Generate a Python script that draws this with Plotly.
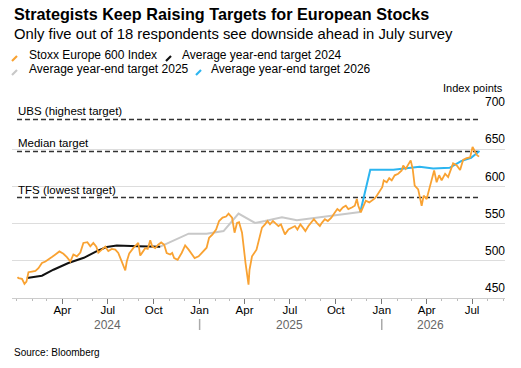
import plotly.graph_objects as go

# ---------------- data ----------------
stoxx_dates = [
    "2024-01-02","2024-01-04","2024-01-11","2024-01-16","2024-01-20","2024-01-24","2024-01-31",
    "2024-02-07","2024-02-13","2024-02-20","2024-02-27","2024-03-04","2024-03-11","2024-03-18",
    "2024-03-26","2024-04-03","2024-04-10","2024-04-17","2024-04-23","2024-04-30","2024-05-07",
    "2024-05-13","2024-05-21","2024-05-27","2024-06-02","2024-06-08","2024-06-12","2024-06-19",
    "2024-06-26","2024-07-02","2024-07-09","2024-07-16","2024-07-22","2024-07-29","2024-08-05",
    "2024-08-08","2024-08-13","2024-08-21","2024-08-31","2024-09-04","2024-09-08","2024-09-14",
    "2024-09-19","2024-09-24","2024-09-28","2024-10-04","2024-10-10","2024-10-16","2024-10-22",
    "2024-10-27","2024-11-03","2024-11-07","2024-11-11","2024-11-18","2024-11-26","2024-12-03",
    "2024-12-10","2024-12-16","2024-12-22","2024-12-30","2025-01-09","2025-01-15","2025-01-20",
    "2025-01-27","2025-02-03","2025-02-09","2025-02-16","2025-02-23","2025-02-28","2025-03-07",
    "2025-03-12","2025-03-17","2025-03-21","2025-03-27","2025-04-03","2025-04-07","2025-04-09",
    "2025-04-11","2025-04-16","2025-04-25","2025-05-02","2025-05-06","2025-05-12","2025-05-17",
    "2025-05-22","2025-05-28","2025-06-01","2025-06-08","2025-06-13","2025-06-18","2025-06-21",
    "2025-06-28","2025-07-05","2025-07-11","2025-07-16","2025-07-22","2025-07-27","2025-08-01",
    "2025-08-07","2025-08-14","2025-08-18","2025-08-24","2025-08-30","2025-09-03","2025-09-09",
    "2025-09-15","2025-09-22","2025-09-29","2025-10-04","2025-10-09","2025-10-15","2025-10-21",
    "2025-10-26","2025-11-02","2025-11-08","2025-11-12","2025-11-15","2025-11-20","2025-11-25",
    "2025-11-30","2025-12-07","2025-12-12","2025-12-18","2025-12-22","2025-12-27","2026-01-02",
    "2026-01-05","2026-01-11","2026-01-16","2026-01-21","2026-01-27","2026-02-03","2026-02-10",
    "2026-02-13","2026-02-18","2026-02-25","2026-02-28","2026-03-04","2026-03-08","2026-03-15",
    "2026-03-20","2026-03-22","2026-03-26","2026-04-01","2026-04-06","2026-04-11","2026-04-16",
    "2026-04-21","2026-04-26","2026-05-01","2026-05-08","2026-05-14","2026-05-21","2026-05-24",
    "2026-05-31","2026-06-07","2026-06-13","2026-06-20","2026-06-27","2026-07-02","2026-07-07",
    "2026-07-11","2026-07-15",
]
stoxx_values = [
    478, 476.6, 475.7, 469, 472, 484.7, 485.6,
    486.5, 490, 497, 499, 501.4, 505, 508.5,
    512.6, 509.5, 505, 499, 508.5, 506, 511,
    524, 525, 519.5, 524, 519, 511, 515,
    519, 513, 516, 515, 510.5, 499, 487,
    499, 510, 517, 524, 507, 510.5, 517,
    516, 527.5, 519.5, 517, 521.6, 524.7, 521.6,
    510.5, 508.5, 510.5, 503.6, 501.4, 510.5, 520.7,
    515, 508.5, 503.6, 506, 513, 517.6, 531,
    535.5, 542, 553.5, 558, 559.5, 563.5, 558,
    537.8, 551, 552, 537.8, 497, 479, 468,
    488, 506, 515, 535, 544.6, 549, 553.5,
    549, 553.5, 551, 546.7, 549, 540, 535.5,
    542, 544.6, 546.7, 542, 549, 544.6, 540,
    546.7, 553.5, 556, 551, 546.7, 551, 556,
    553.5, 558, 565, 569.6, 567, 571.7, 574,
    569.6, 571.7, 574, 583, 574, 565, 574,
    580.7, 578.5, 580.7, 583.9, 587.5, 592, 599,
    608, 605.6, 611, 608, 614.9, 617, 621.5,
    628, 623.6, 633, 635, 623.6, 601, 596,
    583, 574, 587.5, 583, 596, 610.5, 621.5,
    605.6, 615, 608, 617, 612.5, 624, 631,
    628.6, 622, 635.6, 638, 639, 653, 646.8,
    642, 640,
]

target2024_dates = ["2024-01-21","2024-02-20","2024-03-14","2024-04-13","2024-05-14",
                    "2024-06-12","2024-06-29","2024-07-19","2024-08-31","2024-10-14"]
target2024_values = [477, 480, 488, 497, 504, 514, 518.5, 520.5, 519.5, 519]

target2025_dates = ["2024-10-14","2024-12-10","2025-01-15","2025-02-18","2025-03-20","2025-04-22",
                    "2025-05-12","2025-06-15","2025-07-15","2025-09-13","2025-10-16","2025-11-19"]
target2025_values = [519, 536.5, 536.5, 540, 563.5, 551, 553.5, 558.5, 554.5, 560, 562.5, 565.5]

target2026_dates = ["2025-11-19","2025-12-09","2026-01-24","2026-03-18","2026-04-14",
                    "2026-05-17","2026-06-09","2026-06-29","2026-07-16"]
target2026_values = [565.5, 622.5, 622.5, 626.5, 624, 625, 634, 638.5, 647.5]

ref_labels = ["UBS (highest target)", "Median target", "TFS (lowest target)"]
ref_values = [690, 647, 585]
ref_span = ["2024-01-01", "2026-07-13"]

y_ticks = [450, 500, 550, 600, 650, 700]
x_tickvals = ["2024-04-01","2024-07-01","2024-10-01","2025-01-01","2025-04-01","2025-07-01",
              "2025-10-01","2026-01-01","2026-04-01","2026-07-01"]
x_ticktext = ["Apr","Jul","Oct","Jan","Apr","Jul","Oct","Jan","Apr","Jul"]
year_labels = ["2024", "2025", "2026"]
year_label_pos = ["2024-07-01", "2025-07-01", "2026-04-08"]
year_breaks = ["2025-01-01", "2026-01-01"]
minor_months = [f"{y}-{m:02d}-01" for y in (2024, 2025, 2026) for m in range(1, 13)
                if f"{y}-{m:02d}-01" <= "2026-09-01"]

series_names = ["Stoxx Europe 600 Index", "Average year-end target 2024",
                "Average year-end target 2025", "Average year-end target 2026"]
ORANGE = "#f9a232"
BLACK = "#111111"
GRAY = "#c8c8c8"
BLUE = "#2cb5f0"
FONT = "Liberation Sans"

# ---------------- geometry helpers (layout only) ----------------
W, H = 521, 368
ML, MR, MT, MB = 12, 16, 112, 70
PW, PH = W - ML - MR, H - MT - MB


def px(p):
    return (p - ML) / PW


def py(p):
    return (H - MB - p) / PH


fig = go.Figure()

for v in ref_values:
    fig.add_trace(go.Scatter(x=ref_span, y=[v, v], mode="lines",
                             line=dict(color="#333333", width=1.6, dash="5px,3px"),
                             hoverinfo="skip"))

fig.add_trace(go.Scatter(x=target2025_dates, y=target2025_values, mode="lines",
                         line=dict(color=GRAY, width=2), name=series_names[2]))
fig.add_trace(go.Scatter(x=target2024_dates, y=target2024_values, mode="lines",
                         line=dict(color=BLACK, width=2), name=series_names[1]))
fig.add_trace(go.Scatter(x=target2026_dates, y=target2026_values, mode="lines",
                         line=dict(color=BLUE, width=2), name=series_names[3]))
fig.add_trace(go.Scatter(x=stoxx_dates, y=stoxx_values, mode="lines",
                         line=dict(color=ORANGE, width=1.8), name=series_names[0]))

annotations = []
shapes = []

# title / subtitle
annotations.append(dict(text="<b>Strategists Keep Raising Targets for European Stocks</b>",
                        x=px(12), y=py(14), xref="paper", yref="paper", xanchor="left",
                        yanchor="middle", showarrow=False, font=dict(size=16.2, color="#000")))
annotations.append(dict(text="Only five out of 18 respondents see downside ahead in July survey",
                        x=px(12), y=py(34), xref="paper", yref="paper", xanchor="left",
                        yanchor="middle", showarrow=False, font=dict(size=14.8, color="#000")))

# legend
legend_items = [
    (series_names[0], ORANGE, 12, 26.5, 55),
    (series_names[1], BLACK, 166, 180, 55),
    (series_names[2], GRAY, 12, 26.5, 69),
    (series_names[3], BLUE, 196, 209, 69),
]
for name, col, gx, tx, ty in legend_items:
    shapes.append(dict(type="line", xref="paper", yref="paper",
                       x0=px(gx), y0=py(ty + 6), x1=px(gx + 5), y1=py(ty + 1),
                       line=dict(color=col, width=2.2)))
    annotations.append(dict(text=name, x=px(tx), y=py(ty), xref="paper", yref="paper",
                            xanchor="left", yanchor="middle", showarrow=False,
                            font=dict(size=12, color="#000")))

# reference line labels
for lab, v in zip(ref_labels, ref_values):
    annotations.append(dict(text=lab, x=ref_span[0], y=v, xref="x", yref="y",
                            xanchor="left", yanchor="middle", yshift=8, xshift=-1,
                            showarrow=False, font=dict(size=11.5, color="#000")))

# unit label
annotations.append(dict(text="Index points", x=1, y=py(88), xref="paper", yref="paper",
                        xanchor="right", yanchor="middle", showarrow=False,
                        font=dict(size=11, color="#000")))

# year labels and breaks
for lab, pos in zip(year_labels, year_label_pos):
    annotations.append(dict(text=lab, x=pos, y=py(325), xref="x", yref="paper",
                            xanchor="center", yanchor="middle", showarrow=False,
                            font=dict(size=12, color="#666666")))
for b in year_breaks:
    shapes.append(dict(type="line", xref="x", yref="paper", x0=b, x1=b,
                       y0=py(319), y1=py(330), line=dict(color="#aaaaaa", width=1.5)))

# source
annotations.append(dict(text="Source: Bloomberg", x=px(12), y=py(352), xref="paper",
                        yref="paper", xanchor="left", yanchor="middle", showarrow=False,
                        font=dict(size=10, color="#000")))

fig.update_layout(
    width=W, height=H,
    margin=dict(l=ML, r=MR, t=MT, b=MB, pad=0),
    paper_bgcolor="white", plot_bgcolor="white",
    showlegend=False, hovermode=False,
    font=dict(family=FONT, color="#000"),
    annotations=annotations, shapes=shapes,
    xaxis=dict(
        type="date", range=["2023-12-22", "2026-09-05"],
        tickmode="array", tickvals=x_tickvals, ticktext=x_ticktext,
        ticks="outside", ticklen=5, tickwidth=1, tickcolor="#777777",
        ticklabelstandoff=-4,
        showgrid=False, zeroline=False,
        showline=True, linecolor="#cccccc", linewidth=1,
        tickfont=dict(size=11.5, color="#000"),
        minor=dict(tickmode="array", tickvals=minor_months, ticks="outside",
                   ticklen=2, tickcolor="#bbbbbb", showgrid=False),
    ),
    yaxis=dict(
        range=[450, 700], tickmode="array", tickvals=y_ticks,
        side="right", ticklabelposition="inside", ticklabelshift=-10,
        ticklabelstandoff=-3, ticklabeloverflow="allow",
        showgrid=True, gridcolor="#dddddd", gridwidth=1,
        zeroline=False, showline=False, ticks="",
        tickfont=dict(size=12, color="#000"),
    ),
)

fig.write_html("out.html")
